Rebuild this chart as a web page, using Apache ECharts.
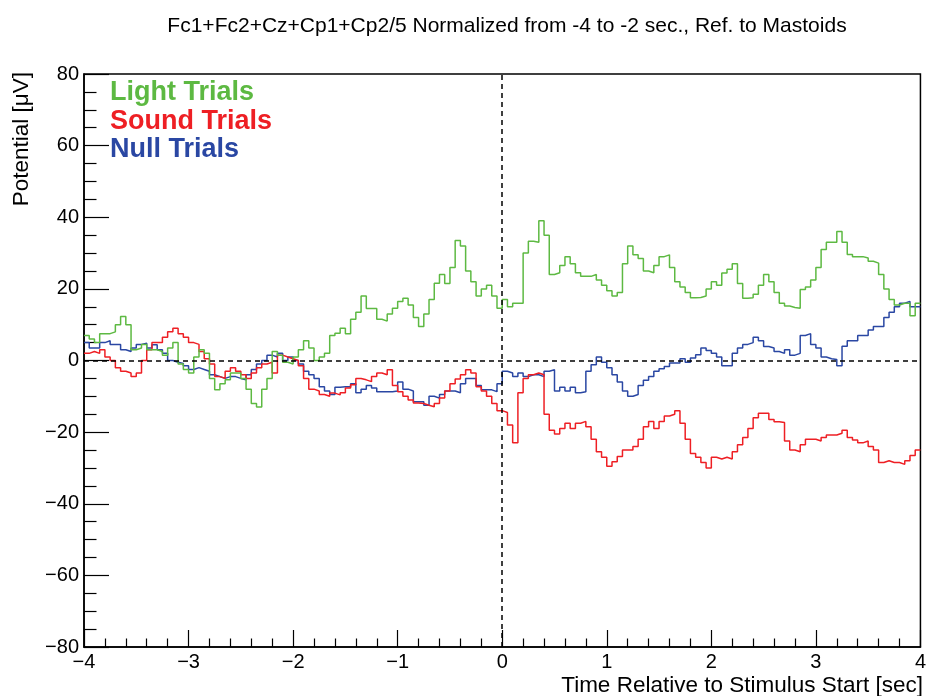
<!DOCTYPE html>
<html>
<head>
<meta charset="utf-8">
<script src="https://cdn.jsdelivr.net/npm/echarts@6/dist/echarts.min.js"></script>
<style>html,body{margin:0;padding:0;background:#fff}#c{width:929px;height:696px}</style>
</head>
<body>
<div id="c"></div>
<script>
// Histogram bins: start time of first bin and bin width (sec)
const binStart = -4;
const binWidth = 0.05;
const xTicks = [-4, -3, -2, -1, 0, 1, 2, 3, 4];
const yTicks = [-80, -60, -40, -20, 0, 20, 40, 60, 80];
const seriesNames = ['Light Trials', 'Sound Trials', 'Null Trials'];

const lightTrials = [
  7, 6, 5, 7.5, 7.5, 8, 10, 12.3, 10, 3, 3.5, 4.5, 3, 3, 2.5, 1.5, 3.5, 5, -1, -2.5,
  -3.5, 1, 3, 2, -5, -8.2, -6.5, -5.4, -3.5, -3.5, -5, -8, -12, -13, -8, -5, 2.5, 1.5, -0.5, -1,
  1, 3, 5.5, 3.5, 0, 1, 2, 7, 7.6, 9, 7.5, 11.5, 13.5, 18, 14.5, 14.5, 11.5, 11, 13, 14.6,
  16.5, 17.4, 15.5, 12, 9.5, 13, 17, 21.6, 24, 21.5, 26, 33.5, 32, 25, 22, 18, 20, 21, 18, 14.6,
  17, 15, 16, 16, 30, 33.3, 33, 39, 35, 24, 24.5, 26.5, 29, 27, 24.5, 23.5, 23.5, 24, 22.5, 21,
  19.5, 18, 19, 27, 32, 29.5, 28.5, 25, 24.5, 26.5, 29, 29.5, 26, 22, 20.5, 19, 17.5, 17.6, 18, 20,
  22, 21, 24.4, 25.5, 27, 21.5, 17.4, 17.5, 18.5, 21, 24, 22, 19, 16, 15.2, 14.8, 14.6, 19.8, 20.5, 22.5,
  26, 31, 33, 33, 36, 33, 29.6, 29, 29, 28.6, 27.7, 27.2, 24, 20, 17, 15.5, 16, 16, 12.5, 16
];
const soundTrials = [
  2, 2.5, 2, 3, 1, 0, -2, -3, -3.5, -4.5, -3.5, 0, 3, 5, 5, 6.5, 8, 9, 7.5, 6.5,
  5, 4.5, 2.5, 0.5, -1, -4.5, -5, -3, -2, -3, -4, -5, -3.5, -2, -1, -0.5, -3.5, 1.5, 1, 0.5,
  0, -1.5, -5, -8, -8.5, -9.5, -10, -9.1, -9.6, -9, -7.7, -6.8, -5, -5.4, -5.9, -4.5, -3.5, -4, -2.6, -7,
  -8.7, -10, -11, -11.9, -12, -12.5, -12.9, -12, -10.5, -8.5, -6.5, -5.2, -4, -2.6, -3.5, -7.3, -8.5, -10, -12, -14,
  -14.5, -18, -23, -9, -5, -4, -3.5, -4, -15, -19.5, -20.5, -19, -17.5, -19, -17.5, -17, -18.5, -22, -25.5, -27,
  -29.5, -28.3, -26.8, -25, -25, -24, -22, -18.5, -17, -19, -17, -15.5, -15, -14, -17.5, -22, -26, -27, -28.5, -30,
  -27, -27.5, -27, -27.5, -25.5, -23.5, -21.5, -19, -16, -14.7, -14.7, -16.5, -17.1, -17.3, -22.5, -25, -25.5, -23.5, -22, -22,
  -22.5, -21.5, -20.8, -20.8, -20.3, -19.5, -21.5, -22.2, -23, -22.5, -24, -25, -28.5, -28, -28.5, -28.5, -29, -28, -26.5, -25
];
const nullTrials = [
  5, 3.5, 3.5, 5, 5.5, 4.5, 4.5, 3, 2.5, 3.5, 4.5, 4.8, 3.5, 4.4, 3, 2, 0, -0.5, -0.8, -1.5,
  -2.5, -2, -2.5, -3, -4, -4.5, -5, -4.5, -4.5, -5, -5.4, -4, -2.5, -1, 0, 1.5, 1, 2, 0, 1,
  0, -1, -3, -4, -5, -7.3, -8.5, -9.5, -7.5, -7.3, -7.3, -6.5, -9, -8, -7, -7.7, -8.7, -8.7, -8.7, -8.5,
  -6, -8, -8.5, -11.5, -11.5, -12.5, -10, -10.5, -9.5, -8.5, -8.5, -9, -6.5, -5, -5, -7, -8.2, -8.2, -8.7, -6.5,
  -3, -3.5, -4.5, -3.5, -4.5, -4, -4, -4.5, -3, -2.6, -8.5, -7.5, -8.5, -7.5, -9, -8.7, -3, -1.2, 1, -0.5,
  -2, -4, -6, -8.5, -10, -9.5, -7, -5.5, -4.5, -3, -2.3, -1.7, -0.7, -0.7, 0.5, -0.5, 0.7, 1.6, 3.5, 2.8,
  2, 1, -1.5, -1.5, 2, 3.5, 4.5, 5, 6.5, 5.5, 3.9, 3.5, 2.5, 2, 3, 1.5, 2, 7, 7.5, 4.5,
  3.5, 1, 0.5, 0.3, -1.5, 4, 5.5, 5.5, 7, 7, 8.5, 9.5, 9.5, 12, 13.5, 15, 16, 16.5, 15, 15
];

const colors = ['#5db942', '#ee1f24', '#2a47a3'];
const FONT = 'Liberation Sans, Arial, Helvetica, sans-serif';

function toSteps(vals) {
  const pts = vals.map((v, i) => [+(binStart + i * binWidth).toFixed(4), v]);
  pts.push([+(binStart + vals.length * binWidth).toFixed(4), vals[vals.length - 1]]);
  return pts;
}
const minus = s => String(s).replace('-', '\u2212');

const chart = echarts.init(document.getElementById('c'), null, {renderer: 'canvas'});
const lineSeries = [lightTrials, soundTrials, nullTrials].map((vals, i) => ({
  name: seriesNames[i],
  type: 'line',
  step: 'end',
  data: toSteps(vals),
  symbol: 'none',
  lineStyle: {color: colors[i], width: 1.5},
  itemStyle: {color: colors[i]},
  z: 3 - i,
  silent: true
}));
lineSeries[0].markLine = {
  silent: true,
  symbol: 'none',
  label: {show: false},
  lineStyle: {color: '#000', type: [5, 4], width: 1.5},
  data: [{xAxis: 0}, {yAxis: 0}]
};

chart.setOption({
  animation: false,
  backgroundColor: '#fff',
  title: {
    text: 'Fc1+Fc2+Cz+Cp1+Cp2/5 Normalized from -4 to -2 sec., Ref. to Mastoids',
    left: 502, top: 11, textAlign: 'center',
    textStyle: {fontFamily: FONT, fontSize: 21, fontWeight: 'normal', color: '#000'}
  },
  grid: {left: 84, right: 5, top: 74, bottom: 49, show: true, borderColor: '#000', borderWidth: 1.5, containLabel: false},
  xAxis: {
    type: 'value', min: xTicks[0], max: xTicks[xTicks.length - 1], interval: 1,
    axisLine: {show: true, onZero: false, lineStyle: {color: '#000', width: 1.5}},
    axisTick: {show: true, inside: true, length: 17, lineStyle: {color: '#000', width: 1.2}},
    minorTick: {show: true, splitNumber: 5, length: 8.5, lineStyle: {color: '#000', width: 1.2}},
    splitLine: {show: false},
    axisLabel: {fontFamily: FONT, fontSize: 20, color: '#000', margin: 5, formatter: v => minus(v), showMinLabel: true, showMaxLabel: true}
  },
  yAxis: {
    type: 'value', min: yTicks[0], max: yTicks[yTicks.length - 1], interval: 20,
    axisLine: {show: true, onZero: false, lineStyle: {color: '#000', width: 1.5}},
    axisTick: {show: true, inside: true, length: 25, lineStyle: {color: '#000', width: 1.2}},
    minorTick: {show: true, splitNumber: 4, length: 12.5, lineStyle: {color: '#000', width: 1.2}},
    splitLine: {show: false},
    axisLabel: {fontFamily: FONT, fontSize: 20, color: '#000', margin: 5, formatter: v => minus(v), showMinLabel: true, showMaxLabel: true}
  },
  graphic: [
    {type: 'text', x: 22, y: 72, rotation: Math.PI / 2,
     style: {text: 'Potential [\u03BCV]', align: 'right', verticalAlign: 'middle', font: '22.5px ' + FONT, fill: '#000'}},
    {type: 'text', x: 923, y: 686,
     style: {text: 'Time Relative to Stimulus Start [sec]', align: 'right', verticalAlign: 'middle', font: '22.5px ' + FONT, fill: '#000'}},
    {type: 'text', x: 110, y: 93,
     style: {text: seriesNames[0], align: 'left', verticalAlign: 'middle', font: 'bold 27px ' + FONT, fill: colors[0]}},
    {type: 'text', x: 110, y: 122,
     style: {text: seriesNames[1], align: 'left', verticalAlign: 'middle', font: 'bold 27px ' + FONT, fill: colors[1]}},
    {type: 'text', x: 110, y: 150,
     style: {text: seriesNames[2], align: 'left', verticalAlign: 'middle', font: 'bold 27px ' + FONT, fill: colors[2]}}
  ],
  series: lineSeries
});
</script>
</body>
</html>
